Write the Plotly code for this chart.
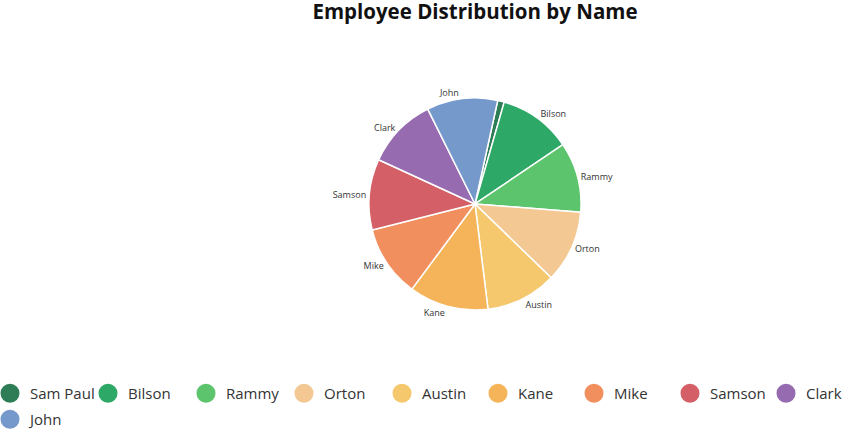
import plotly.graph_objects as go

names = ["Sam Paul", "Bilson", "Rammy", "Orton", "Austin", "Kane", "Mike", "Samson", "Clark", "John"]
values = [1.0, 11.1, 10.7, 11.0, 10.8, 12.1, 10.9, 10.8, 10.8, 10.8]
colors = ["#2E7D57", "#2EA866", "#5CC46C", "#F3C893", "#F5C86E", "#F5B45A", "#F28F5E", "#D45F66", "#966BB0", "#7699CB"]
# legend boxes: row 1 split in two boxes, John on row 2
legend_ids = ["legend"] * 4 + ["legend2"] * 5 + ["legend3"]

FONT = "Open Sans"
slice_text = [n if v >= 2 else "" for n, v in zip(names, values)]

fig = go.Figure()
fig.add_trace(go.Pie(
    labels=names, values=values, sort=False, direction="clockwise", rotation=12.4,
    marker=dict(colors=colors, line=dict(color="white", width=1.5)),
    text=slice_text, textinfo="text", textposition="outside",
    textfont=dict(family=FONT, size=9, color="#333333"),
    showlegend=False, hoverinfo="label+value",
    domain=dict(x=[475/850 - 0.3, 475/850 + 0.3], y=[0.2841, 0.7737]),
))
for n, c, lg in zip(names, colors, legend_ids):
    fig.add_trace(go.Scatter(
        x=[None], y=[None], mode="markers", name=n, legend=lg,
        marker=dict(color=c, size=16, symbol="circle", line=dict(color=c, width=3)),
        showlegend=True, hoverinfo="skip",
    ))

leg_common = dict(orientation="h", xanchor="left", yanchor="bottom",
                  font=dict(family=FONT, size=15, color="#333333"),
                  entrywidthmode="pixels", itemsizing="trace",
                  bgcolor="rgba(0,0,0,0)")

fig.update_layout(
    width=850, height=433,
    margin=dict(l=0, r=0, t=0, b=0, autoexpand=False),
    paper_bgcolor="white", plot_bgcolor="white",
    title=dict(text="<b>Employee Distribution by Name</b>", x=475/850, xanchor="center",
               yref="container", y=1 - 12/433, yanchor="middle",
               font=dict(family=FONT, size=20.5, color="#111111")),
    xaxis=dict(visible=False), yaxis=dict(visible=False),
    legend=dict(x=-10/850, y=23/433, entrywidth=53, **leg_common),
    legend2=dict(x=382/850, y=23/433, entrywidth=51, **leg_common),
    legend3=dict(x=-10/850, y=-3/433, entrywidth=53, **leg_common),
    font=dict(family=FONT),
)
fig.write_html("out.html", config={"displayModeBar": False},
               post_script="document.body.style.margin='0';")
